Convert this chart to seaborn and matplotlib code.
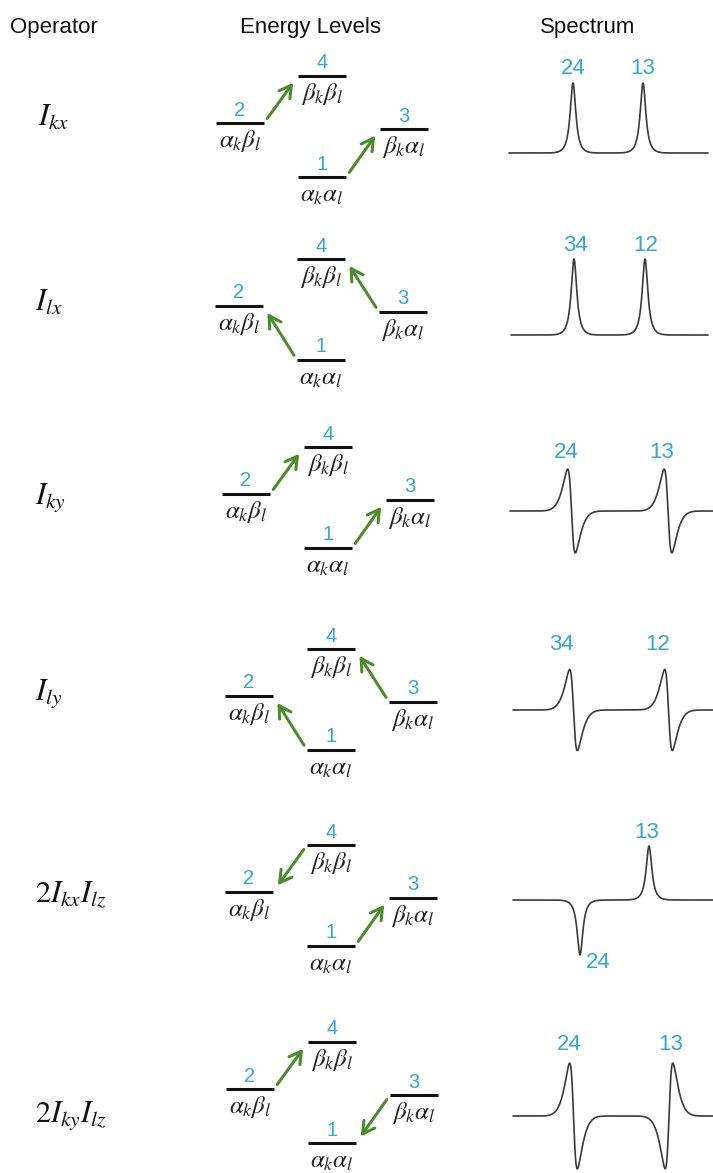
import numpy as np
import pandas as pd
import matplotlib
matplotlib.use("Agg")
import matplotlib.pyplot as plt
import seaborn as sns

# ---------------- data ----------------
headers = ["Operator", "Energy Levels", "Spectrum"]
operators = [r"$I_{kx}$", r"$I_{lx}$", r"$I_{ky}$", r"$I_{ly}$",
             r"$2I_{kx}I_{lz}$", r"$2I_{ky}I_{lz}$"]

level_ids = [1, 2, 3, 4]
level_column = [1, 0, 2, 1]          # 0 = left, 1 = middle, 2 = right
level_energy = [0, 54, 48, 101]      # relative energies (arbitrary units)
level_states = [r"$\alpha_k\alpha_l$", r"$\alpha_k\beta_l$",
                r"$\beta_k\alpha_l$", r"$\beta_k\beta_l$"]

transitions = [
    [(2, 4), (1, 3)],
    [(1, 2), (3, 4)],
    [(2, 4), (1, 3)],
    [(1, 2), (3, 4)],
    [(4, 2), (1, 3)],
    [(2, 4), (3, 1)],
]

# spectrum: frequency axis 0..203 (arbitrary units)
peak_labels = [["24", "13"], ["34", "12"], ["24", "13"],
               ["34", "12"], ["24", "13"], ["24", "13"]]
peak_pos = [[63, 133], [64, 135], [61.5, 158], [63.5, 158.5], [70, 139], [63.5, 159]]
peak_amp = [[70, 70], [76, 76], [92, 92], [89, 89], [-55, 54], [116, -116]]
peak_shape = ["abs", "abs", "disp", "disp", "abs", "disp"]
spec_range = [(-1, 198), (1, 198), (0, 203), (3, 203), (3, 203), (3, 203)]
label_x = [[63, 133], [65, 136], [56, 152], [51, 148], [88, 137], [59, 161]]
label_y = [[85, 85], [90, 90], [59, 59], [66, 66], [-63, 67], [71, 71]]

# ---------------- layout (pixels) ----------------
W, H = 713, 1173
level1_px = [177, 360, 548, 750, 946, 1143]
col0_px = [240, 239, 246, 249, 249, 250]
col_gap = 82
half_w = 24 / col_gap
base_px = [153, 335, 511, 710, 900, 1116]
spec_left = 510
op_pos = [(38, 118), (35, 303), (35, 497), (35, 693), (35, 895), (35, 1115)]

BLUE = "#33a6dc"
GREEN = "#4c8c2c"
LINE = "#3a3a3a"

sns.set_theme(style="white")
plt.rcParams["mathtext.fontset"] = "stix"
plt.rcParams["font.family"] = ["Liberation Sans", "DejaVu Sans"]

fig = plt.figure(figsize=(W / 100, H / 100), dpi=100)
fig.patch.set_facecolor("white")


def fx(px):
    return px / W


def fy(py):
    return 1 - py / H


# headers
for txt, cx in zip(headers, [54, 311, 588]):
    fig.text(fx(cx), fy(27), txt, ha="center", va="center", fontsize=16, color="#111111")

# operators
for txt, (x, y) in zip(operators, op_pos):
    fig.text(fx(x), fy(y), txt, ha="left", va="center", fontsize=22, color="#111111")


def lineshape(x, x0, amp, kind):
    if kind == "abs":
        u = (x - x0) / 3.5
        return amp / (1 + u ** 2) * np.exp(-(u / 4.0) ** 2)
    u = (x - x0) / 4.5
    return -amp * u / (1 + u ** 2) * np.exp(-(u / 3.0) ** 2)


for i in range(6):
    # ---------- energy-level diagram ----------
    y1 = level1_px[i]
    ax = fig.add_axes([fx(col0_px[i] - col_gap / 2), fy(y1 + 40),
                       3 * col_gap / W, 180 / H])
    ax.set_xlim(-0.5, 2.5)
    ax.set_ylim(-40, 140)
    ax.axis("off")
    df = pd.DataFrame({"id": level_ids, "col": level_column,
                       "E": level_energy, "state": level_states})
    ax.hlines(df["E"], df["col"] - half_w, df["col"] + half_w,
              color="#111111", lw=2.2)
    for _, r in df.iterrows():
        ax.text(r["col"], r["E"] + 13, str(r["id"]), ha="center", va="center",
                color=BLUE, fontsize=14.5)
        ax.text(r["col"], r["E"] - 18, r["state"], ha="center", va="center",
                color="#222222", fontsize=18)
    for a, b in transitions[i]:
        ra = df[df["id"] == a].iloc[0]
        rb = df[df["id"] == b].iloc[0]
        if rb["col"] > ra["col"]:
            src = (ra["col"] + half_w, ra["E"])
            dst = (rb["col"] - half_w, rb["E"])
        else:
            src = (ra["col"] - half_w, ra["E"])
            dst = (rb["col"] + half_w, rb["E"])
        ax.annotate("", xy=dst, xytext=src,
                    arrowprops=dict(arrowstyle="->,head_length=0.7,head_width=0.4",
                                    color=GREEN, lw=2.2, shrinkA=4, shrinkB=6))

    # ---------- spectrum ----------
    b = base_px[i]
    sx = fig.add_axes([fx(spec_left), fy(b + 60), 203 / W, 120 / H])
    sx.set_xlim(0, 203)
    sx.set_ylim(-60, 60)
    sx.axis("off")
    xs = np.linspace(spec_range[i][0], spec_range[i][1], 2400)
    ys = np.zeros_like(xs)
    for x0, amp in zip(peak_pos[i], peak_amp[i]):
        ys = ys + lineshape(xs, x0, amp, peak_shape[i])
    sns.lineplot(x=xs, y=ys, ax=sx, color=LINE, linewidth=1.2, clip_on=False)
    for lab, lx, ly in zip(peak_labels[i], label_x[i], label_y[i]):
        sx.text(lx, ly, lab, ha="center", va="center", color=BLUE, fontsize=16)

fig.savefig("out.png", dpi=100, facecolor="white")
